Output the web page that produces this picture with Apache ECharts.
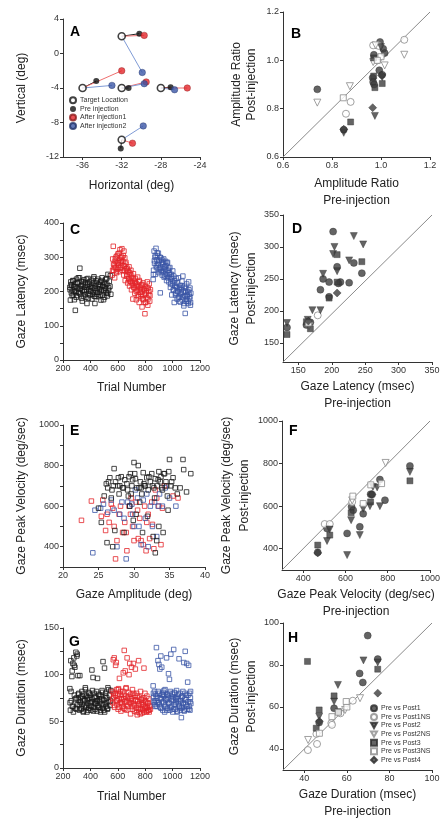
<!DOCTYPE html>
<html>
<head>
<meta charset="utf-8">
<script src="https://cdn.jsdelivr.net/npm/echarts@6/dist/echarts.min.js"></script>
<style>
html, body { margin: 0; padding: 0; background: #fff; }
#chart { width: 445px; height: 820px; }
</style>
</head>
<body>
<div id="chart"></div>
<script>
// ---- panel A : target locations and gaze end points (deg)
const targetX = [-32, -36, -32, -28, -32];
const targetY = [2, -4, -4, -4, -10];
const preX = [-30.2, -34.6, -31.3, -27.0, -32.1];
const preY = [2.3, -3.2, -4.0, -3.9, -11.0];
const inj1X = [-29.7, -32.0, -29.5, -25.3, -30.9];
const inj1Y = [2.1, -2.0, -3.3, -4.0, -10.4];
const inj2X = [-29.9, -33.0, -29.7, -26.6, -29.8];
const inj2Y = [-2.2, -3.7, -3.5, -4.2, -8.4];

// ---- panels C / G : trial numbers, latency and duration per block
const blackTrials = [250,254,257,261,265,268,272,276,279,283, 287,290,294,298,301,305,309,312,316,320,
  323,327,331,334,338,342,345,349,353,356, 360,364,367,371,375,378,382,386,389,393,
  397,400,404,408,411,415,419,422,426,430, 433,437,441,444,448,452,455,459,463,466,
  470,474,477,481,485,488,492,496,499,503, 508,512,516,520,524,528,533,538,543,549,
  252,259,267,274,282,289,297,304,311,319, 326,334,341,348,356,363,371,378,385,393,
  400,408,415,422,430,437,445,452,459,467, 474,482,489,496,504,511,519,526,533,546];
const blackLatency = [212,175,228,196,218,205,232,190,214,176, 222,145,201,236,188,210,226,198,207,240,
  268,193,215,230,180,203,221,187,234,199, 212,226,183,205,165,219,238,194,208,228,
  190,215,200,233,178,211,224,196,243,186, 165,217,202,231,192,209,236,185,221,198,
  214,229,175,205,240,190,218,202,227,183, 210,235,197,221,187,250,204,230,215,192,
  205,220,188,231,199,214,183,225,240,196, 209,218,172,228,204,191,236,213,180,222,
  201,216,192,238,209,185,226,198,219,207, 189,232,214,176,223,204,238,195,211,246];
const blackDuration = [85,62,115,72,98,66,112,60,118,78, 108,64,124,75,120,68,99,73,80,62,
  99,70,76,63,82,68,74,61,79,66, 72,84,65,77,60,73,69,81,64,75,
  67,78,62,71,105,74,97,65,80,70, 63,76,69,82,61,72,67,79,65,74,
  71,60,77,68,83,64,114,73,62,107, 69,80,66,75,63,86,71,78,67,83,
  70,82,104,66,110,74,63,122,79,68, 71,64,77,60,73,86,67,75,62,80,
  70,66,83,61,76,69,72,96,65,78, 62,74,81,68,60,77,70,64,84,72];

const redTrials = [560,563,567,570,574,577,581,584,588,591, 595,598,602,605,609,612,616,619,623,626,
  630,633,637,640,644,647,651,654,658,661, 665,668,672,675,679,682,686,689,693,696,
  700,703,707,710,714,717,721,724,728,731, 735,738,742,745,749,752,756,759,763,766,
  770,773,777,780,784,787,791,794,798,801, 805,808,812,815,819,822,826,829,833,838,
  562,569,575,582,589,596,603,610,617,624, 631,638,645,652,659,666,673,680,687,694,
  701,708,715,722,729,736,743,750,757,764, 771,778,785,792,799,806,813,820,827,835];
const redLatency = [248,295,332,262,278,240,288,270,301,255, 283,265,310,276,292,258,322,284,270,300,
  325,262,288,305,248,275,298,232,280,266, 245,268,225,258,238,272,216,250,230,262,
  205,240,225,178,252,212,230,195,238,218, 176,222,204,242,190,215,168,228,198,210,
  185,218,155,200,225,176,208,192,135,215, 168,202,182,228,160,210,190,222,172,205,
  262,280,270,296,258,305,284,312,268,290, 300,276,318,260,285,250,262,235,255,228,
  245,220,236,210,226,200,214,185,232,206, 192,220,178,205,168,196,210,178,200,188];
const redDuration = [82,70,116,76,118,65,80,110,72,84, 68,78,63,85,74,96,70,82,61,76,
  73,66,79,102,64,126,71,104,77,86, 62,118,75,68,81,100,70,74,58,79,
  108,66,84,72,112,69,61,78,106,73, 64,80,57,71,67,115,60,76,63,82,
  68,73,59,70,75,62,107,66,80,64, 71,60,77,65,69,62,74,60,67,63,
  74,80,67,78,113,72,84,65,79,70, 69,82,74,63,85,71,66,77,112,69,
  75,63,80,67,72,60,77,64,69,58, 74,63,68,60,72,65,61,70,62,66];

const blueTrials = [858,861,865,868,872,875,879,882,886,889, 893,896,900,903,907,910,914,917,921,924,
  928,931,935,938,942,945,949,952,956,959, 963,966,970,973,977,980,984,987,991,994,
  998,1001,1005,1008,1012,1015,1019,1022,1026,1029, 1033,1036,1040,1043,1047,1050,1054,1057,1061,1064,
  1068,1071,1075,1078,1082,1085,1089,1092,1096,1099, 1103,1106,1110,1113,1117,1120,1124,1127,1130,1133,
  860,867,874,881,888,895,902,909,916,923, 930,937,944,951,958,965,972,979,986,993,
  1000,1007,1014,1021,1028,1035,1042,1049,1056,1063, 1070,1077,1084,1091,1098,1105,1112,1119,1126,1131];
const blueLatency = [235,262,318,282,300,250,326,270,292,305, 278,312,255,290,270,196,298,262,285,248,
  280,258,295,242,272,265,288,250,232,283, 285,245,262,228,255,270,212,238,250,190,
  222,260,205,245,168,232,215,195,238,210, 178,225,200,240,185,212,170,218,192,205,
  230,175,245,198,158,215,188,136,210,172, 222,185,200,165,228,192,178,210,160,195,
  250,290,305,275,312,282,265,300,258,292, 268,285,245,276,262,240,268,250,222,242,
  230,205,225,190,215,200,182,208,170,195, 212,185,165,200,178,190,172,205,185,168];
const blueDuration = [88,76,70,82,68,79,72,129,66,75, 115,70,111,80,106,65,120,74,108,78,
  62,81,70,77,60,84,68,73,118,79, 64,76,101,70,95,62,82,122,74,66,
  79,60,73,127,68,80,63,75,71,83, 61,77,69,74,117,66,80,62,72,54,
  76,65,82,70,113,61,74,125,68,78, 112,63,92,71,110,66,80,62,75,69,
  80,72,66,77,70,82,68,75,64,79, 71,83,66,74,62,78,69,80,65,72,
  76,63,81,68,74,60,79,66,72,64, 77,69,62,80,73,66,78,63,71,82];

// ---- panel E : amplitude (deg) vs peak velocity (deg/sec)
const ampBlack = [25.0,25.4,25.8,26.1,26.3,26.6,26.9,27.2,27.4,27.7, 27.9,28.2,28.4,28.7,29.0,29.2,29.5,29.7,30.0,30.2,
  30.4,30.6,30.9,31.1,31.3,31.6,31.8,32.0,32.3,32.5, 32.8,33.0,33.3,33.5,33.8,34.0,34.2,34.5,34.7,35.0,
  35.2,35.5,35.8,36.1,36.5,36.9,37.0,37.4,38.0,26.2, 27.0,27.3,28.6,29.4,29.9,30.3,31.2,31.9,32.7,33.0,
  33.2,33.5,34.1,34.8,26.8,28.0,29.1,30.8,31.5,33.7, 26.4,27.1,27.8,28.5,29.3,29.8,30.1,30.7,31.4,32.1,
  32.6,33.4,33.9,34.3,34.9,35.3,29.6,31.0,32.9,34.6];
const velBlack = [590,520,650,710,690,740,680,785,720,700, 660,745,690,730,710,650,760,700,815,735,
  690,800,720,660,765,700,740,680,720,760, 690,735,700,770,745,680,760,720,650,830,
  700,740,690,660,690,830,780,670,760,420, 400,480,470,600,530,560,470,550,450,370,
  430,500,470,580,640,700,680,620,700,720, 720,700,740,690,745,730,760,690,710,745,
  700,730,690,760,770,720,660,690,640,700];
const ampRed = [22.6,24.0,25.4,25.6,26.0,26.2,26.5,27.0,27.2,27.4, 27.6,27.9,28.1,28.4,28.7,29.0,29.3,29.6,29.8,30.0,
  30.3,30.5,30.8,31.0,31.3,31.5,31.8,32.0,32.2,32.5, 32.8,33.0,33.2,33.5,33.8,34.0,34.3,35.5,36.2,26.8,
  28.9,30.6,31.7,29.5,32.6];
const velRed = [530,625,550,630,480,560,520,590,500,340, 430,560,600,470,520,380,600,640,500,430,
  620,580,540,430,410,600,520,560,440,620, 390,680,640,600,410,590,700,650,640,610,
  470,440,380,560,510];
const ampBlue = [24.2,24.5,25.3,25.7,26.3,26.8,27.6,28.0,28.3,28.6, 28.9,29.1,29.4,29.7,30.0,30.2,30.5,30.7,31.0,31.3,
  31.6,32.0,32.3,32.6,32.9,33.2,33.6,34.0,34.4,35.0, 35.9,27.2,29.8,31.8,33.4];
const velBlue = [370,580,590,610,570,630,400,560,620,540, 340,620,600,610,500,680,640,500,410,630,
  540,400,600,500,620,450,660,600,690,640, 600,580,560,660,600];

// ---- panel B : amplitude ratio [pre, post]
const bPost1 = [[0.74,0.88],[0.848,0.713],[0.996,1.076],[0.971,1.023],[1.009,1.048],[1.015,1.03],[0.993,0.959],[0.966,0.928],[0.968,0.91],[0.972,0.90],[1.005,0.94]];
const bPost1NS = [[0.876,0.828],[0.857,0.779],[1.095,1.085],[0.968,1.062],[0.99,1.06],[0.985,1.0]];
const bPost2 = [[0.848,0.70],[0.975,0.77],[1.0,1.055],[1.005,0.93]];
const bPost2NS = [[0.74,0.825],[0.873,0.893],[1.095,1.023],[1.015,0.979],[0.968,0.993],[0.978,1.062]];
const bPost3 = [[0.876,0.745],[0.97,1.01],[0.975,0.887],[1.005,0.904],[0.97,0.935]];
const bPost3NS = [[0.846,0.845],[1.0,1.015],[0.985,1.0]];
const bPost4 = [[0.966,0.804],[0.848,0.715],[1.002,0.938]];

// ---- panel D : gaze latency (msec) [pre, post]
const dPost1 = [[202,324],[233,275],[208,269],[187,250],[196,245],[183,233],[213,245],[226,244],[245,259],[196,222],[168,182],[162,178],[133,174],[210,243]];
const dPost1NS = [[179,193]];
const dPost2 = [[204,300],[233,317],[247,304],[202,289],[226,279],[208,262],[187,258],[171,201],[183,201],[133,181],[164,186]];
const dPost2NS = [[166,176]];
const dPost3 = [[208,288],[245,277],[208,245],[196,220],[168,172],[133,163],[162,183]];
const dPost3NS = [[165,181]];
const dPost4 = [[208,228],[165,184]];

// ---- panel F : gaze peak velocity (deg/sec) [pre, post]
const fPost1 = [[905,789],[763,725],[719,656],[787,628],[684,564],[629,597],[637,581],[668,503],[608,472],[513,495],[469,383],[726,655]];
const fPost1NS = [[502,516],[526,516],[632,620]];
const fPost2 = [[905,761],[750,688],[763,600],[716,600],[684,588],[627,534],[668,464],[608,370],[513,436],[525,490],[730,690]];
const fPost2NS = [[790,803],[632,627]];
const fPost3 = [[905,719],[719,620],[627,569],[526,464],[469,417]];
const fPost3NS = [[771,706],[684,612],[635,647],[720,700]];
const fPost4 = [[469,380],[725,655]];

// ---- panel H : gaze duration (msec) [pre, post]
const hPost1 = [[69.8,94],[74.5,82.8],[66,76],[67.5,71.7],[54,59.4],[47,52.6]];
const hPost1NS = [[52.7,52.3],[53,51.5],[45.7,47.2],[46,42.4],[41.7,39.5],[62.8,63],[57,57]];
const hPost2 = [[67.8,82.2],[74.5,81.2],[55.8,70.5],[54,62.6],[47,55.4]];
const hPost2NS = [[66.2,64.2],[59.2,58.6],[41.8,44.3]];
const hPost3 = [[41.5,81.7],[74.5,78],[54,65.3],[56,57.8],[47,58.6],[45.6,49.9]];
const hPost3NS = [[53,55.4],[60,60],[59.7,62.6],[47.1,47.5],[56,57.5]];
const hPost4 = [[74.5,66.6],[47.1,53.2]];

// ---- tick labels
const aTicksX = [-36, -32, -28, -24];
const aTicksY = [-12, -8, -4, 0, 4];
const bTicks = [0.6, 0.8, 1.0, 1.2];
const trialTicks = [200, 400, 600, 800, 1000, 1200];
const latTicks = [0, 100, 200, 300, 400];
const latMinor = [0, 50, 100, 150, 200, 250, 300, 350, 400];
const dTicks = [150, 200, 250, 300, 350];
const eTicksX = [20, 25, 30, 35, 40];
const velTicks = [400, 600, 800, 1000];
const velMinor = [300, 400, 500, 600, 700, 800, 900, 1000];
const durTicks = [0, 50, 100, 150];
const durMinor = [0, 25, 50, 75, 100, 125, 150];
const hTicks = [40, 60, 80, 100];

const groupNames = ['Pre vs Post1', 'Pre vs Post1NS', 'Pre vs Post2', 'Pre vs Post2NS', 'Pre vs Post3', 'Pre vs Post3NS', 'Pre vs Post4'];

const FONT = '"Liberation Sans", Arial, sans-serif';
const RED = '#e3262b', BLUE = '#3b56a6', BLACK = '#1a1a1a';
const DOWN_TRI = 'path://M0,0 L10,0 L5,9 Z';

const zip = (xs, ys) => xs.map((x, i) => [x, ys[i]]);

function mkAxis(gi, min, max, labels, ticks, name, gap, fmt, lh) {
  return {
    type: 'value', gridIndex: gi, min: min, max: max,
    name: name, nameLocation: 'middle', nameGap: gap,
    nameTextStyle: {fontSize: 12, color: '#222', lineHeight: lh || 17, fontFamily: FONT},
    splitLine: {show: false},
    axisLine: {show: true, onZero: false, lineStyle: {color: '#333', width: 1}},
    axisTick: {show: true, length: 3, lineStyle: {color: '#333'}, customValues: ticks || labels},
    axisLabel: {fontSize: 9, color: '#333', margin: 4, fontFamily: FONT, customValues: labels,
      formatter: fmt || (v => String(v))}
  };
}

const grids = [
  {left: 63, top: 19, width: 137, height: 138},   // A
  {left: 283, top: 12, width: 147, height: 145},  // B
  {left: 63, top: 223, width: 137, height: 137},  // C
  {left: 283, top: 215, width: 149, height: 147}, // D
  {left: 63, top: 425, width: 142, height: 142},  // E
  {left: 282, top: 421, width: 148, height: 149}, // F
  {left: 63, top: 628, width: 137, height: 140},  // G
  {left: 283, top: 623, width: 149, height: 147}  // H
].map(g => Object.assign({outerBoundsMode: 'none'}, g));

const fix1 = v => v.toFixed(1);

const xAxes = [
  mkAxis(0, -38, -24, aTicksX, null, 'Horizontal (deg)', 20),
  mkAxis(1, 0.6, 1.2, bTicks, null, 'Amplitude Ratio\nPre-injection', 18, fix1),
  mkAxis(2, 200, 1200, trialTicks, null, 'Trial Number', 19),
  mkAxis(3, 127, 350, dTicks, null, 'Gaze Latency (msec)\nPre-injection', 16),
  mkAxis(4, 20, 40, eTicksX, null, 'Gaze Amplitude (deg)', 19),
  mkAxis(5, 300, 1000, velTicks, null, 'Gaze Peak Velocity (deg/sec)\nPre-injection', 16),
  mkAxis(6, 200, 1200, trialTicks, null, 'Trial Number', 20),
  mkAxis(7, 30, 100, hTicks, null, 'Gaze Duration (msec)\nPre-injection', 16)
];
const yAxes = [
  mkAxis(0, -12, 4, aTicksY, null, 'Vertical (deg)', 33),
  mkAxis(1, 0.6, 1.2, bTicks, null, 'Amplitude Ratio\nPost-injection', 24, fix1, 15),
  mkAxis(2, 0, 400, latTicks, latMinor, 'Gaze Latency (msec)', 33),
  mkAxis(3, 120, 350, dTicks, null, 'Gaze Latency (msec)\nPost-injection', 23, null, 17),
  mkAxis(4, 300, 1000, velTicks, velMinor, 'Gaze Peak Velocity (deg/sec)', 33),
  mkAxis(5, 300, 1000, velTicks, null, 'Gaze Peak Velocity (deg/sec)\nPost-injection', 22, null, 18),
  mkAxis(6, 0, 150, durTicks, durMinor, 'Gaze Duration (msec)', 33),
  mkAxis(7, 30, 100, hTicks, null, 'Gaze Duration (msec)\nPost-injection', 23, null, 17)
];

const series = [];

// panel A: connecting lines from each target to its end points
[[preX, preY, '#222'], [inj1X, inj1Y, '#ef6f6f'], [inj2X, inj2Y, '#7f9bd6']].forEach(([xs, ys, c]) => {
  targetX.forEach((tx, i) => {
    series.push({
      type: 'line', name: 'link', xAxisIndex: 0, yAxisIndex: 0, silent: true,
      symbol: 'none', z: 1, lineStyle: {color: c, width: 1},
      data: [[tx, targetY[i]], [xs[i], ys[i]]]
    });
  });
});
series.push(
  {type: 'scatter', name: 'Pre injection', xAxisIndex: 0, yAxisIndex: 0, symbolSize: 6, z: 3,
    itemStyle: {color: '#111'}, data: zip(preX, preY)},
  {type: 'scatter', name: 'After injection1', xAxisIndex: 0, yAxisIndex: 0, symbolSize: 6.5, z: 3,
    itemStyle: {color: RED, borderColor: '#8b1b1b', borderWidth: 0.5}, data: zip(inj1X, inj1Y)},
  {type: 'scatter', name: 'After injection2', xAxisIndex: 0, yAxisIndex: 0, symbolSize: 6.5, z: 3,
    itemStyle: {color: BLUE, borderColor: '#1e2f66', borderWidth: 0.5}, data: zip(inj2X, inj2Y)},
  {type: 'scatter', name: 'Target Location', xAxisIndex: 0, yAxisIndex: 0, symbolSize: 7, z: 4,
    itemStyle: {color: '#fff', borderColor: '#111', borderWidth: 1.6}, data: zip(targetX, targetY)}
);

// panels C, E, G: open squares
function squares(gi, data, color) {
  return {type: 'scatter', xAxisIndex: gi, yAxisIndex: gi, symbol: 'rect', symbolSize: 4.5, silent: true,
    itemStyle: {color: 'transparent', borderColor: color, borderWidth: 1}, data: data};
}
series.push(
  squares(2, zip(blackTrials, blackLatency), BLACK),
  squares(2, zip(redTrials, redLatency), RED),
  squares(2, zip(blueTrials, blueLatency), BLUE),
  squares(4, zip(ampRed, velRed), RED),
  squares(4, zip(ampBlue, velBlue), BLUE),
  squares(4, zip(ampBlack, velBlack), BLACK),
  squares(6, zip(blackTrials, blackDuration), BLACK),
  squares(6, zip(redTrials, redDuration), RED),
  squares(6, zip(blueTrials, blueDuration), BLUE)
);

// panels B, D, F, H: identity line and pre/post markers
const marker = [
  {symbol: 'circle', open: false},
  {symbol: 'circle', open: true},
  {symbol: DOWN_TRI, open: false},
  {symbol: DOWN_TRI, open: true},
  {symbol: 'rect', open: false},
  {symbol: 'rect', open: true},
  {symbol: 'diamond', open: false}
];
const pairPanels = [
  [1, [bPost1, bPost1NS, bPost2, bPost2NS, bPost3, bPost3NS, bPost4]],
  [3, [dPost1, dPost1NS, dPost2, dPost2NS, dPost3, dPost3NS, dPost4]],
  [5, [fPost1, fPost1NS, fPost2, fPost2NS, fPost3, fPost3NS, fPost4]],
  [7, [hPost1, hPost1NS, hPost2, hPost2NS, hPost3, hPost3NS, hPost4]]
];
pairPanels.forEach(([gi, sets]) => {
  const xa = xAxes[gi], ya = yAxes[gi];
  series.push({type: 'line', name: 'identity', xAxisIndex: gi, yAxisIndex: gi, silent: true, symbol: 'none', z: 1,
    lineStyle: {color: '#8a8a8a', width: 1}, data: [[xa.min, ya.min], [xa.max, ya.max]]});
  sets.forEach((d, k) => {
    const m = marker[k];
    series.push({
      type: 'scatter', name: groupNames[k], xAxisIndex: gi, yAxisIndex: gi,
      symbol: m.symbol, symbolSize: m.symbol === 'diamond' ? 8 : (m.symbol === 'rect' ? 6 : 7),
      itemStyle: m.open ? {color: '#fff', borderColor: '#8a8a8a', borderWidth: 1}
                        : {color: '#3d3d3d', borderColor: '#2a2a2a', borderWidth: 0.5},
      data: d
    });
  });
});

const letters = [['A', 70, 25], ['B', 291, 27], ['C', 70, 223], ['D', 292, 222],
                 ['E', 70, 424], ['F', 289, 424], ['G', 69, 635], ['H', 288, 631]];

const legendText = {fontSize: 7, color: '#333', lineHeight: 8.6, padding: [0, 0, 0, -1]};

const option = {
  animation: false,
  backgroundColor: '#fff',
  textStyle: {fontFamily: FONT},
  grid: grids,
  xAxis: xAxes,
  yAxis: yAxes,
  legend: [
    {data: ['Target Location', 'Pre injection', 'After injection1', 'After injection2'],
      orient: 'vertical', left: 69, top: 96, itemWidth: 6, itemHeight: 6, itemGap: 0, padding: 0,
      selectedMode: false, textStyle: legendText},
    {data: groupNames.map((n, k) => ({name: n, icon: marker[k].symbol})),
      orient: 'vertical', left: 370, top: 704, itemWidth: 6, itemHeight: 6, itemGap: 0, padding: 0,
      selectedMode: false, textStyle: legendText}
  ],
  graphic: letters.map(([t, x, y]) => ({
    type: 'text', left: x, top: y, silent: true,
    style: {text: t, font: 'bold 14px ' + FONT, fill: '#000'}
  })),
  series: series
};

const chart = echarts.init(document.getElementById('chart'));
chart.setOption(option);
</script>
</body>
</html>
